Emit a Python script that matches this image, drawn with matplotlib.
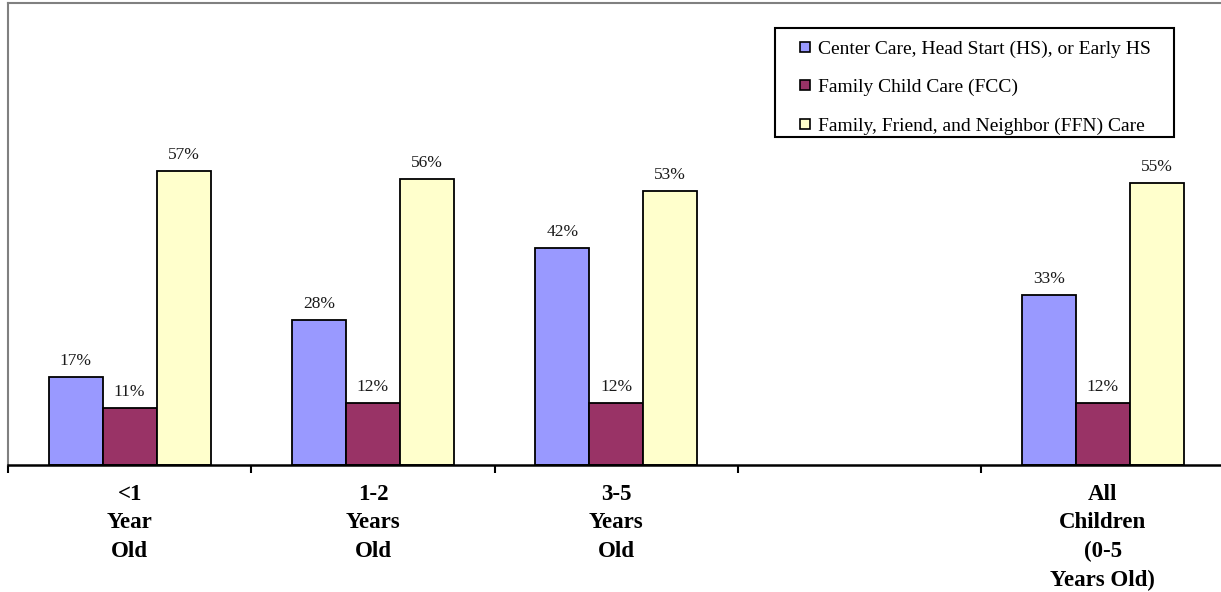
import matplotlib.pyplot as plt
from matplotlib.lines import Line2D
from matplotlib.patches import Rectangle
import numpy as np

# care arrangement by child age
categories = ['<1\nYear\nOld', '1-2\nYears\nOld', '3-5\nYears\nOld', '', 'All\nChildren\n(0-5\nYears Old)']
series = ['Center Care, Head Start (HS), or Early HS',
          'Family Child Care (FCC)',
          'Family, Friend, and Neighbor (FFN) Care']
center = [0.17, 0.28, 0.42, np.nan, 0.33]
fcc = [0.11, 0.12, 0.12, np.nan, 0.12]
ffn = [0.57, 0.555, 0.53, np.nan, 0.547]
colors = ['#9999FF', '#993366', '#FFFFCC']

plt.rcParams['font.family'] = ['Liberation Serif', 'DejaVu Serif']

fig = plt.figure(figsize=(12.21, 5.92), dpi=100)
ax = fig.add_axes([8/1221, 127/592, 1216.5/1221, 462/592])

index = np.arange(len(categories))
width = 0.222
for k, (vals, col) in enumerate(zip([center, fcc, ffn], colors)):
    x = index + (k - 1) * width
    ax.bar(x, vals, width, color=col, edgecolor='black', linewidth=1.3)
    for xi, v in zip(x, vals):
        if np.isnan(v):
            continue
        ax.text(xi, v + 0.031, '%d%%' % round(v * 100), ha='center', va='center',
                fontsize=12.5, color='#1a1a1a')

ax.set_xlim(-0.5, len(categories) - 0.5)
ax.set_ylim(0, 0.895)
ax.set_yticks([])

ax.set_xticks(index)
ax.set_xticklabels(categories, fontsize=16.5, fontweight='bold', linespacing=1.47)
ax.set_xticks(np.arange(len(categories) + 1) - 0.5, minor=True)
ax.tick_params(axis='x', which='major', length=0, pad=13.5)
ax.tick_params(axis='x', which='minor', length=6, width=1.5, direction='out')

for s in ['left', 'top']:
    ax.spines[s].set_color('#808080')
    ax.spines[s].set_linewidth(1.5)
ax.spines['right'].set_visible(False)
ax.spines['bottom'].set_linewidth(1.8)

# legend: small square keys inside a plain black box
handles = [Line2D([], [], linestyle='none', marker='s', markersize=6.5,
                  markerfacecolor=c, markeredgecolor='black', markeredgewidth=1.2)
           for c in colors]
leg = fig.legend(handles, series, loc='upper left',
                 bbox_to_anchor=(795/1221, 1 - 40/592),
                 fontsize=14, frameon=False, handlelength=1.0,
                 handletextpad=0.17, labelspacing=1.08,
                 borderpad=0, borderaxespad=0)
fig.patches.append(Rectangle((775/1221, 1 - 137/592), 399/1221, 109/592,
                             transform=fig.transFigure, fill=False,
                             edgecolor='black', linewidth=1.5))

plt.savefig('out.png', dpi=100)
